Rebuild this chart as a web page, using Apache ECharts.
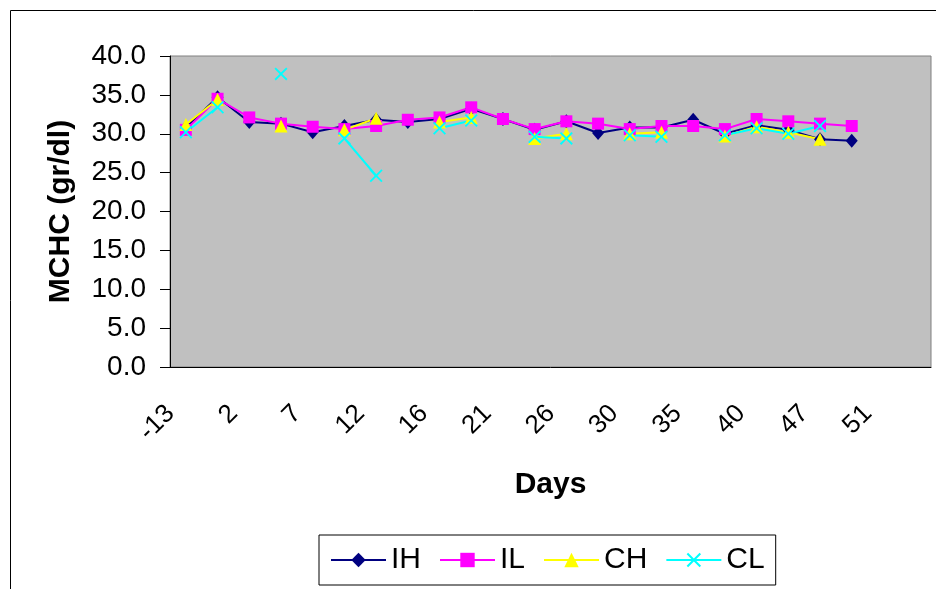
<!DOCTYPE html>
<html>
<head>
<meta charset="utf-8">
<script src="https://cdn.jsdelivr.net/npm/echarts@6/dist/echarts.min.js"></script>
<style>
  html, body { margin: 0; padding: 0; background: #fff; }
  #chart { width: 936px; height: 589px; }
</style>
</head>
<body>
<div id="chart"></div>
<script>
// x categories: only every other day is labelled in the source
const days = ['-13', '', '2', '', '7', '', '12', '', '16', '', '21', '',
              '26', '', '30', '', '35', '', '40', '', '47', '', '51', ''];

// MCHC (gr/dl) per group, null = no sample that day
const ih = [30.8, 34.7, 31.5, 31.3, 30.2, 31.0, 31.8, 31.5, 31.9, 33.2, 31.9, 30.5,
            31.6, 30.1, 30.8, 30.8, 31.8, 30.0, 31.1, 30.5, 29.3, 29.1];
const il = [30.5, 34.5, 32.1, 31.3, 30.9, 30.6, 31.0, 31.8, 32.1, 33.4, 31.9, 30.6,
            31.6, 31.3, 30.6, 31.0, 31.0, 30.6, 31.9, 31.6, 31.3, 31.0];
const ch = [31.2, 34.4, null, 31.0, null, 30.5, 32.0, null, 31.5, 32.1, null, 29.4,
            30.0, null, 30.0, 30.2, null, 29.7, 30.9, 30.2, 29.3, null];
const cl = [30.2, 33.4, null, 37.7, null, 29.4, 24.6, null, 30.7, 31.7, null, 29.6,
            29.4, null, 29.8, 29.6, null, 29.8, 30.7, 30.0, 31.0, null];

const seriesNames = ['IH', 'IL', 'CH', 'CL'];

const font = '"Liberation Sans", Arial, sans-serif';
const crossPath = 'path://M0,1L1,0L5,4L9,0L10,1L6,5L10,9L9,10L5,6L1,10L0,9L4,5Z';

function line(name, data, color, symbol, size) {
  return {
    name, type: 'line', data,
    symbol, symbolSize: size, showSymbol: true,
    lineStyle: { color, width: 2 },
    itemStyle: { color },
    emphasis: { disabled: true },
    animation: false
  };
}

const chart = echarts.init(document.getElementById('chart'));
chart.setOption({
  animation: false,
  graphic: [{
    type: 'rect', silent: true,
    shape: { x: 10.5, y: 10.5, width: 1000, height: 1000 },
    style: { fill: 'none', stroke: '#000', lineWidth: 1 }
  }],
  legend: {
    data: seriesNames,
    left: 319, top: 535,
    padding: [10, 11, 10, 11],
    itemGap: 18, itemWidth: 55, itemHeight: 18,
    borderColor: '#000', borderWidth: 1,
    textStyle: { fontFamily: font, fontSize: 30, color: '#000' }
  },
  grid: {
    left: 170, right: 5, top: 56, bottom: 222,
    show: true, backgroundColor: '#c0c0c0', borderColor: '#808080', borderWidth: 1
  },
  xAxis: {
    type: 'category', data: days, boundaryGap: true,
    name: 'Days', nameLocation: 'middle', nameGap: 103,
    nameTextStyle: { fontFamily: font, fontSize: 30, fontWeight: 'bold', color: '#000', verticalAlign: 'top' },
    axisLine: { lineStyle: { color: '#000', width: 1 } },
    axisTick: { interval: 0, length: 9, lineStyle: { color: '#000' } },
    axisLabel: {
      interval: 1, rotate: 45, margin: 27, hideOverlap: false,
      fontFamily: font, fontSize: 26, color: '#000',
      padding: [0, 22, 0, 0]
    },
    splitLine: { show: false }
  },
  yAxis: {
    type: 'value', min: 0, max: 40, interval: 5,
    name: 'MCHC (gr/dl)', nameLocation: 'middle', nameGap: 94,
    nameTextStyle: { fontFamily: font, fontSize: 30, fontWeight: 'bold', color: '#000' },
    axisLine: { show: true, lineStyle: { color: '#000', width: 1 } },
    axisTick: { show: true, length: 10, lineStyle: { color: '#000' } },
    axisLabel: {
      margin: 24, fontFamily: font, fontSize: 28, color: '#000',
      formatter: (v) => v.toFixed(1)
    },
    splitLine: { show: false }
  },
  series: [
    line('IH', ih, '#000080', 'diamond', [12, 14]),
    line('IL', il, '#ff00ff', 'rect', 12),
    line('CH', ch, '#ffff00', 'triangle', 13),
    line('CL', cl, '#00ffff', crossPath, 13)
  ]
});
</script>
</body>
</html>
